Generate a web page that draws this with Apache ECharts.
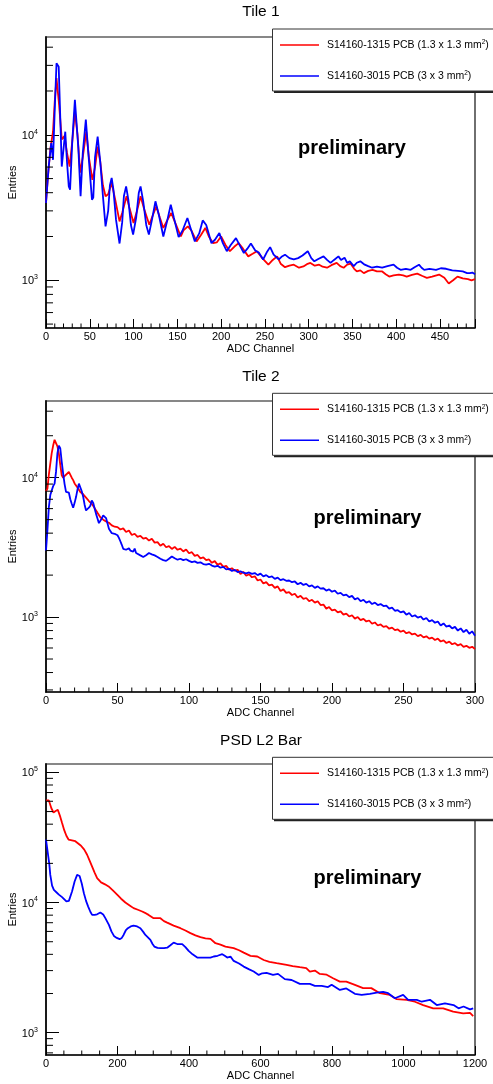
<!DOCTYPE html>
<html><head><meta charset="utf-8">
<script src="https://cdn.jsdelivr.net/npm/echarts@6/dist/echarts.min.js"></script>
<style>html,body{margin:0;padding:0;background:#fff}#c{width:493px;height:1084px}</style>
</head><body><div id="c"></div>
<script>
// ---------- data ----------
const panelTitles = ['Tile 1', 'Tile 2', 'PSD L2 Bar'];
const xAxisTitle = 'ADC Channel';
const yAxisTitle = 'Entries';
const seriesNames = ['S14160-1315 PCB (1.3 x 1.3 mm\u00b2)', 'S14160-3015 PCB (3 x 3 mm\u00b2)'];
const watermark = 'preliminary';
const xMaxes = [490, 300, 1200];
const xMajorSteps = [50, 50, 200];
const xMinorSteps = [10, 10, 50];
const yRanges = [[470, 47000], [290, 35500], [674, 116000]];

const tile1Red = [[0,3400],[2,5000],[5,8000],[8,10500],[10,17000],[12,24500],[15,16000],[18,9300],[21,9800],[24,7500],[27,6050],[30,9000],[33,14500],[36,10000],[39,5500],[42,7000],[46,10500],[49,7000],[53,4900],[56,6000],[59,8300],[62,6500],[65,4500],[68,3780],[71,3900],[75,4660],[79,3600],[84,2540],[87,2900],[92,3780],[95,3200],[100,2480],[104,3000],[108,3780],[112,3100],[118,2410],[121,2700],[126,3220],[130,2700],[134,2290],[138,2550],[143,2900],[148,2450],[154,2000],[157,2200],[162,2350],[166,2200],[172,1850],[177,2050],[182,2290],[186,2000],[191,1800],[195,1820],[200,2000],[205,1750],[210,1585],[215,1700],[220,1800],[225,1650],[231,1460],[236,1520],[241,1585],[247,1420],[254,1280],[259,1380],[264,1460],[268,1300],[273,1230],[278,1260],[283,1280],[289,1220],[294,1245],[298,1290],[302,1316],[307,1260],[312,1280],[316,1240],[321,1220],[326,1270],[332,1316],[336,1250],[340,1220],[344,1280],[348,1300],[352,1200],[355,1150],[359,1170],[363,1120],[368,1160],[373,1180],[378,1150],[384,1150],[388,1100],[392,1060],[397,1080],[403,1095],[408,1080],[412,1060],[418,1090],[424,1110],[430,1070],[435,1040],[441,1060],[449,1095],[455,1040],[460,950],[465,1000],[470,1060],[476,1030],[482,1020],[486,1000],[490,1020]];
const tile1Blue = [[0,3400],[3,6000],[6,8770],[8,6730],[10,15000],[12,31000],[14.5,29400],[16,15000],[18,6050],[22,10500],[24,6500],[26,4420],[27.5,4200],[30,9000],[33,17400],[34.5,17400],[37,8000],[39.5,3780],[42,7500],[45.5,12700],[48,8000],[52.5,3580],[54,3700],[56,7000],[59,9730],[62,6500],[65,3800],[68,2350],[71,3000],[73,4500],[75,5050],[77,4200],[80,2600],[84,1790],[87,2500],[89,3800],[91.5,4420],[94,3600],[97,2400],[99.5,2060],[103,2700],[106,4000],[108,4420],[111,3500],[114.5,2400],[117.5,2060],[121,2600],[125,3490],[129,2800],[134,2000],[138,2500],[142.5,3310],[146,2700],[151.5,1980],[156,2200],[161.5,2680],[165,2300],[170,1850],[175,2100],[179,2580],[183,2400],[189,1800],[193,1900],[198,2110],[202,1800],[206.5,1585],[211,1750],[217,1950],[221,1750],[226,1540],[230,1650],[234,1790],[239,1600],[243,1550],[248,1390],[252,1550],[256,1690],[260,1500],[266,1390],[269,1450],[273,1500],[278,1420],[283,1390],[288,1420],[293,1480],[299,1585],[303,1420],[306.5,1350],[311,1400],[317,1460],[321,1380],[325,1316],[329,1380],[334,1460],[337,1380],[341,1430],[344,1316],[347,1350],[351.5,1250],[355,1320],[359,1350],[364,1280],[368,1250],[372.5,1220],[378,1240],[384,1220],[390,1250],[397,1280],[401,1220],[405,1180],[411,1200],[416.5,1180],[421,1230],[426,1280],[429,1220],[432,1180],[438,1200],[445.5,1180],[451,1210],[457,1200],[464,1170],[470.5,1160],[476,1150],[481,1120],[484,1120],[487,1130],[490,1100]];

const tile2Red = [[0,8000],[1,8340],[2,10500],[3,12600],[4,15000],[5,17000],[6,18700],[7,18300],[8,16800],[9,14900],[10,12300],[11,10400],[12,10000],[13,10100],[14,10500],[15,10800],[16,11000],[17,10900],[18,10000],[19,9600],[20,9100],[21,8800],[22,8500],[24,7900],[26,7600],[28,7200],[30,6800],[32,6500],[34,6050],[36,5600],[38,5200],[40,5000],[42,4850],[44,4750],[46,4550],[48,4450],[50,4420],[52,4250],[54,4330],[56,4080],[58,4180],[60,3880],[62,3960],[64,3760],[66,3830],[68,3650],[70,3700],[72,3540],[74,3650],[76,3420],[78,3450],[80,3250],[82,3360],[84,3170],[86,3230],[88,3080],[90,3190],[92,3040],[94,3100],[96,2960],[98,3050],[100,2870],[102,2920],[104,2750],[106,2790],[108,2640],[110,2680],[112,2560],[114,2590],[116,2450],[118,2520],[120,2370],[122,2430],[124,2290],[126,2330],[128,2190],[130,2240],[132,2150],[134,2180],[136,2040],[138,2110],[140,1980],[142,2030],[144,1930],[146,1960],[148,1830],[150,1860],[152,1740],[154,1780],[156,1690],[158,1710],[160,1620],[162,1660],[164,1540],[166,1580],[168,1490],[170,1510],[172,1440],[174,1470],[176,1380],[178,1420],[180,1350],[182,1370],[184,1300],[186,1330],[188,1270],[190,1300],[192,1220],[194,1230],[196,1150],[198,1180],[200,1115],[202,1130],[204,1080],[206,1100],[208,1040],[210,1060],[212,1010],[214,1030],[216,975],[218,1000],[220,950],[222,970],[224,930],[226,945],[228,895],[230,915],[232,870],[234,885],[236,850],[238,860],[240,825],[242,840],[244,805],[246,815],[248,785],[250,800],[252,765],[254,780],[256,750],[258,760],[260,730],[262,745],[264,715],[266,728],[268,700],[270,712],[272,685],[274,700],[276,668],[278,680],[280,652],[282,666],[284,638],[286,650],[288,625],[290,640],[292,612],[294,622],[296,602],[298,612],[300,590]];
const tile2Blue = [[0,3000],[1,4200],[2,6150],[3,7500],[4,8100],[5,8700],[6,9060],[7,11000],[8,15000],[9,17000],[10,16200],[11,13000],[12,10700],[13,9000],[14,7900],[15,7850],[16,7800],[17,7000],[18,6500],[19,6090],[20,6600],[21,7260],[22,8200],[23,9060],[24,8800],[25,8000],[26,7300],[27,6400],[28,5820],[29,5900],[30,6090],[31,6300],[32,6870],[33,6600],[34,6020],[35,5500],[36,5100],[37,4720],[38,4850],[39,5100],[40,5360],[41,5200],[42,5130],[43,4700],[44,4300],[46,4000],[48,3960],[50,3860],[51,3700],[52,3500],[53,3300],[54,3090],[56,3040],[58,3120],[59,3000],[60,3090],[61,2950],[62,3100],[63,2880],[64,2800],[66,2770],[67,2850],[68,2700],[70,2780],[72,2880],[74,2820],[76,2770],[78,2700],[80,2620],[82,2560],[84,2530],[86,2620],[88,2720],[90,2640],[92,2580],[94,2620],[96,2560],[98,2600],[100,2530],[102,2480],[104,2510],[106,2450],[108,2470],[110,2400],[112,2380],[114,2410],[116,2340],[118,2300],[120,2330],[122,2260],[124,2290],[126,2200],[128,2220],[130,2140],[132,2180],[134,2100],[136,2130],[138,2080],[140,2060],[142,2090],[144,2040],[146,2070],[148,2000],[150,2050],[152,1960],[154,2000],[156,1930],[158,1960],[160,1880],[162,1920],[164,1840],[166,1870],[168,1820],[170,1830],[172,1780],[174,1800],[176,1720],[178,1760],[180,1700],[182,1730],[184,1660],[186,1690],[188,1620],[190,1660],[192,1600],[194,1610],[196,1550],[198,1580],[200,1520],[202,1550],[204,1470],[206,1490],[208,1430],[210,1450],[212,1390],[214,1420],[216,1340],[218,1370],[220,1300],[222,1330],[224,1270],[226,1300],[228,1240],[230,1270],[232,1220],[234,1240],[236,1200],[238,1210],[240,1150],[242,1170],[244,1110],[246,1120],[248,1080],[250,1100],[252,1040],[254,1070],[256,1010],[258,1030],[260,990],[262,1010],[264,960],[266,985],[268,930],[270,950],[272,910],[274,930],[276,870],[278,900],[280,855],[282,870],[284,830],[286,850],[288,800],[290,830],[292,780],[294,810],[296,760],[298,790],[300,735]];

const barRed = [[0,61000],[8,60900],[15,53000],[21,49200],[27,50500],[33,51600],[40,45500],[45,40800],[51,36000],[57,32600],[63,30500],[68,30000],[82,29600],[98,27300],[107,25500],[115,23300],[122,21000],[129,18900],[136,17000],[143,15400],[154,14300],[165,13800],[175,13300],[187,12400],[199,11500],[210,10700],[222,10000],[234,9500],[245,9060],[257,8800],[269,8540],[280,8250],[287,8040],[301,7580],[320,7580],[330,7200],[339,7010],[357,6650],[376,6350],[390,6100],[404,5820],[418,5600],[432,5420],[446,5300],[460,5260],[474,4870],[488,4750],[502,4590],[525,4460],[540,4300],[553,4120],[572,3890],[591,3850],[609,3620],[625,3500],[645,3420],[673,3320],[690,3250],[710,3190],[728,3140],[738,2950],[752,3000],[766,2830],[785,2790],[803,2620],[822,2470],[840,2470],[864,2330],[887,2200],[910,2200],[934,2010],[962,1950],[981,1810],[1009,1790],[1032,1730],[1055,1630],[1083,1540],[1111,1540],[1139,1450],[1167,1410],[1186,1420],[1195,1340]];
const barBlue = [[0,30400],[5,30400],[9,20000],[12,16300],[17,13500],[22,12500],[29,12000],[36,11500],[45,11000],[57,10200],[64,10300],[73,12200],[80,14500],[87,16300],[94,16000],[100,14000],[106,11800],[112,10300],[118,9310],[124,8500],[129,8040],[136,8050],[143,8120],[152,8380],[160,8100],[166,7590],[176,6730],[183,6000],[190,5540],[198,5350],[206,5230],[212,5350],[217,5640],[223,6100],[229,6350],[237,6550],[245,6650],[255,6550],[264,6350],[272,5950],[278,5640],[285,5400],[292,5160],[298,4800],[303,4590],[312,4480],[320,4460],[330,4470],[339,4500],[348,4700],[357,4920],[367,4800],[381,4800],[390,4550],[399,4250],[410,4000],[423,3780],[441,3780],[460,3780],[469,3850],[480,3900],[493,4010],[500,3900],[507,3780],[516,3850],[525,3560],[540,3400],[553,3220],[567,3080],[581,2950],[595,2780],[605,2860],[617,2880],[635,2780],[649,2830],[668,2580],[687,2540],[710,2370],[738,2370],[743,2440],[752,2290],[771,2290],[789,2240],[799,2340],[822,2130],[840,2190],[864,1990],[883,1950],[906,1990],[925,2030],[943,2060],[957,2010],[976,1840],[999,1950],[1013,1790],[1037,1790],[1051,1730],[1074,1790],[1093,1630],[1116,1680],[1140,1630],[1154,1540],[1168,1590],[1186,1510],[1195,1540]];

const panelData = [[tile1Red, tile1Blue], [tile2Red, tile2Blue], [barRed, barBlue]];

// ---------- layout / style ----------
const FONT = '"Liberation Sans", Arial, Helvetica, sans-serif';
const colors = ['#ff0000', '#0000ff'];
const gridTops = [37, 401, 764];
const gridLeft = 46, gridW = 429, gridH = 291;
const titleYs = [12, 377, 741];
const legendTops = [29, 393.3, 757.3];
const wmPos = [[352, 148], [367.5, 518], [367.5, 878]];

function yMinorValues(min, max) {
  const out = [];
  for (let d = Math.floor(Math.log10(min)); d <= Math.ceil(Math.log10(max)); d++) {
    for (let m = 2; m <= 9; m++) {
      const v = m * Math.pow(10, d);
      if (v > min && v < max) out.push(v);
    }
  }
  return out;
}
function xMinorValues(max, step, major) {
  const out = [];
  for (let v = step; v < max; v += step) if (v % major !== 0) out.push(v);
  return out;
}

const grids = [], xAxes = [], yAxes = [], series = [], graphics = [];
panelData.forEach((pair, i) => {
  grids.push({left: gridLeft, top: gridTops[i], width: gridW, height: gridH, show: true,
    borderColor: '#111', borderWidth: 1.2, backgroundColor: 'transparent', containLabel: false, outerBoundsMode: 'none'});
  xAxes.push({type: 'value', gridIndex: i, min: 0, max: xMaxes[i], interval: xMajorSteps[i],
    name: xAxisTitle, nameLocation: 'middle', nameGap: 15, nameMoveOverlap: false,
    nameTextStyle: {fontSize: 11, color: '#000', fontFamily: FONT},
    axisLine: {onZero: false, lineStyle: {color: '#111', width: 1.5}},
    axisTick: {inside: true, length: 9, interval: 0, lineStyle: {color: '#000', width: 1}},
    axisLabel: {fontSize: 11, color: '#000', margin: 3, interval: 0, fontFamily: FONT, hideOverlap: false,
      formatter: v => (v % xMajorSteps[i] === 0 ? String(v) : '')},
    splitLine: {show: false}});
  yAxes.push({type: 'log', logBase: 10, gridIndex: i, min: yRanges[i][0], max: yRanges[i][1],
    name: yAxisTitle, nameLocation: 'middle', nameGap: 28, nameMoveOverlap: false,
    nameTextStyle: {fontSize: 11, color: '#000', fontFamily: FONT},
    axisLine: {lineStyle: {color: '#111', width: 1.8}},
    axisTick: {inside: true, length: 13, lineStyle: {color: '#000', width: 1}},
    axisLabel: {margin: 8, showMinLabel: false, showMaxLabel: false, hideOverlap: false,
      formatter: v => { const l = Math.log10(v), r = Math.round(l); return Math.abs(l - r) < 1e-6 ? '{n|10}{s|' + r + '}' : ''; },
      rich: {n: {fontSize: 11, color: '#000', fontFamily: FONT, lineHeight: 13, verticalAlign: 'bottom'},
             s: {fontSize: 7, color: '#000', fontFamily: FONT, lineHeight: 13, verticalAlign: 'top'}}},
    splitLine: {show: false}});
  pair.forEach((d, k) => series.push({type: 'line', name: seriesNames[k], xAxisIndex: i, yAxisIndex: i, data: d,
    showSymbol: false, symbol: 'none', lineStyle: {color: colors[k], width: 1.8}, itemStyle: {color: colors[k]},
    animation: false, z: 3}));
  // minor ticks (ROOT style) drawn through the axes
  series.push({type: 'custom', xAxisIndex: i, yAxisIndex: i, silent: true, clip: false, animation: false, z: 6,
    data: yMinorValues(yRanges[i][0], yRanges[i][1]).map(v => [0, v]),
    renderItem: (p, api) => { const c = api.coord([api.value(0), api.value(1)]);
      return {type: 'line', shape: {x1: c[0], y1: c[1], x2: c[0] + 7, y2: c[1]}, style: {stroke: '#000', lineWidth: 1}}; }});
  series.push({type: 'custom', xAxisIndex: i, yAxisIndex: i, silent: true, clip: false, animation: false, z: 6,
    data: xMinorValues(xMaxes[i], xMinorSteps[i], xMajorSteps[i]).map(v => [v, yRanges[i][0]]),
    renderItem: (p, api) => { const c = api.coord([api.value(0), api.value(1)]);
      return {type: 'line', shape: {x1: c[0], y1: c[1], x2: c[0], y2: c[1] - 4.5}, style: {stroke: '#000', lineWidth: 1}}; }});

  // title
  graphics.push({type: 'text', x: 261, y: titleYs[i], z: 20,
    style: {text: panelTitles[i], fontSize: 15.5, fontFamily: FONT, fill: '#000', align: 'center', verticalAlign: 'middle'}});
  // watermark
  graphics.push({type: 'text', x: wmPos[i][0], y: wmPos[i][1], z: 20,
    style: {text: watermark, fontSize: 20, fontWeight: 'bold', fontFamily: FONT, fill: '#000', align: 'center', verticalAlign: 'middle'}});
  // legend box
  const T = legendTops[i];
  graphics.push({type: 'rect', shape: {x: 274, y: T + 2, width: 240, height: 62}, style: {fill: '#222'}, z: 30});
  graphics.push({type: 'rect', shape: {x: 272.5, y: T, width: 240, height: 62}, style: {fill: '#fff', stroke: '#333', lineWidth: 1}, z: 31});
  [16, 47].forEach((dy, k) => {
    graphics.push({type: 'line', shape: {x1: 280, y1: T + dy, x2: 319, y2: T + dy}, style: {stroke: colors[k], lineWidth: 1.5}, z: 32});
    graphics.push({type: 'text', x: 327, y: T + dy, z: 32,
      style: {text: seriesNames[k].replace('\u00b2', '{s|2}'), fontSize: 10.5, fontFamily: FONT, fill: '#000', verticalAlign: 'middle',
        rich: {s: {fontSize: 6.5, fontFamily: FONT, fill: '#000', verticalAlign: 'top', lineHeight: 12}}}});
  });
});

const chart = echarts.init(document.getElementById('c'), null, {renderer: 'canvas'});
chart.setOption({
  animation: false,
  backgroundColor: '#fff',
  textStyle: {fontFamily: FONT},
  grid: grids, xAxis: xAxes, yAxis: yAxes, series: series,
  graphic: {elements: graphics}
});
</script></body></html>
